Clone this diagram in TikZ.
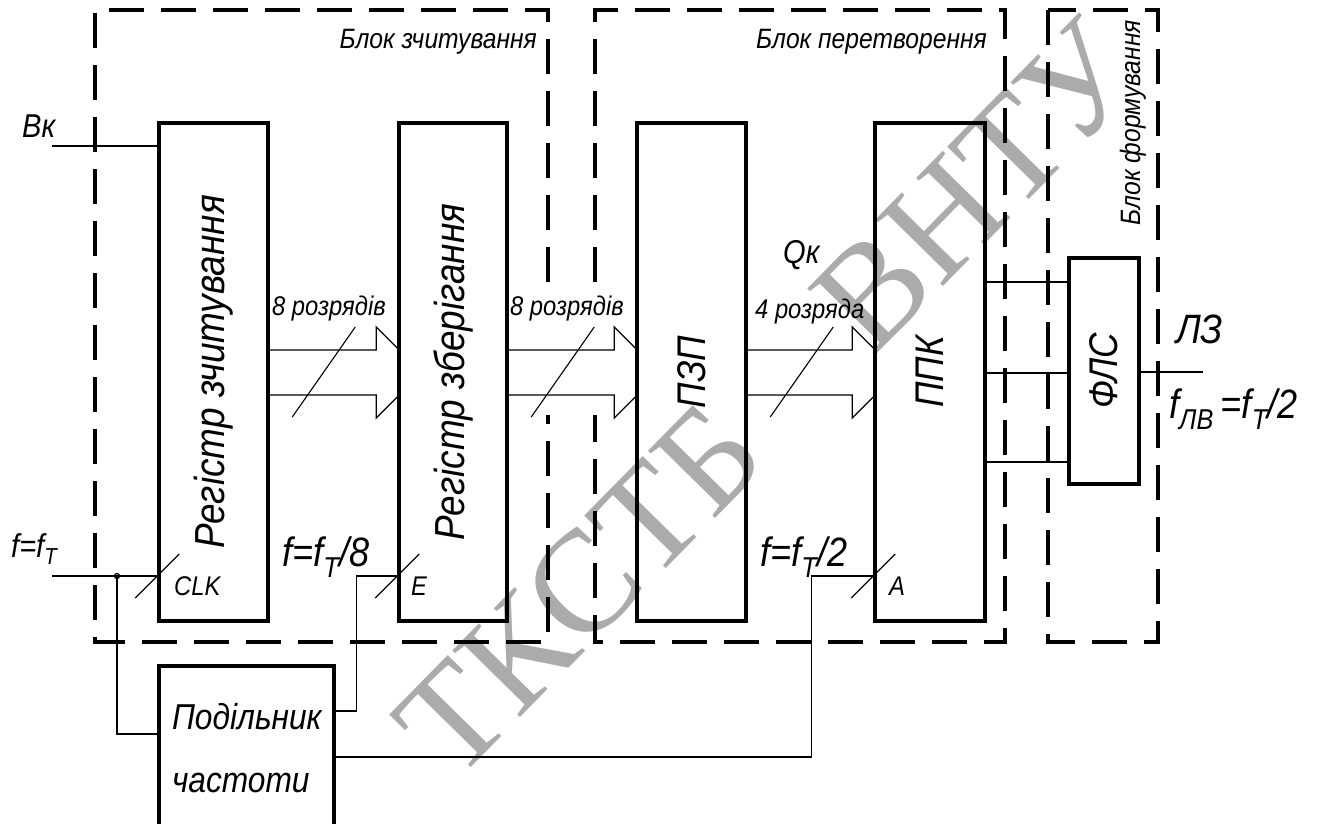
\documentclass[tikz,border=0pt]{standalone}
\usepackage{fontspec}
\usepackage{graphicx}
\newfontfamily\gost{Liberation Sans}[FakeStretch=0.88]
\newfontfamily\wmfont{Liberation Serif}
\usetikzlibrary{calc}
\tikzset{
  blk/.style={rectangle, draw, line width=3.5pt, inner sep=0pt,
    font=\gost\itshape\fontsize{42}{48}\selectfont},
  blksm/.style={font=\gost\itshape\fontsize{40}{44}\selectfont},
  frame/.style={line width=4pt, dash pattern=on 35pt off 17pt},
  wire/.style={line width=1.3pt},
  slash/.style={line width=1.1pt},
  lblS/.style={inner sep=0pt, font=\gost\itshape\fontsize{27}{32}\selectfont},
  lblM/.style={inner sep=0pt, font=\gost\itshape\fontsize{33}{38}\selectfont},
  lblL/.style={inner sep=0pt, font=\gost\itshape\fontsize{41}{48}\selectfont},
  lblF/.style={inner sep=0pt, font=\gost\itshape\fontsize{28}{32}\selectfont},
  wmark/.style={inner sep=0pt, text=black!33, font=\wmfont\fontsize{145}{145}\selectfont},
}

\begin{document}
\begin{tikzpicture}[x=1pt, y=-1pt]
  \path[use as bounding box, clip] (0,0) rectangle (1325,823);

  % watermark
  \node[wmark, rotate=45.5] (wm) at (768,398) {ТКСТБ\hspace{1em}ВНТУ};

  % frames
  \draw[frame] (548,282) -- (548,10) -- (95,10) -- (95,642) -- (548,642) -- (548,415);
  \draw[frame] (595,282) -- (595,10) -- (1005,10) -- (1005,642) -- (595,642) -- (595,415);
  \draw[frame] (1048,10) rectangle (1158,642);
  \node[lblF, anchor=base east] (tzch) at (537,48) {Блок зчитування};
  \node[lblF, anchor=base east] (tper) at (987,48) {Блок перетворення};
  \node[lblF, rotate=90, anchor=base east] (tform) at (1140,20) {Блок формування};

  % blocks
  \node[blk, minimum width=109pt, minimum height=498pt] (rz) at (213.5,372) {\rotatebox{90}{Регістр зчитування}};
  \node[blk, minimum width=108pt, minimum height=498pt] (rs) at (453,372) {\rotatebox{90}{Регістр зберігання}};
  \node[blk, blksm, minimum width=109pt, minimum height=498pt] (pzp) at (691.5,372) {\rotatebox{90}{ПЗП}};
  \node[blk, blksm, minimum width=110pt, minimum height=498pt] (ppk) at (930,372) {\rotatebox{90}{ППК}};
  \node[blk, blksm, minimum width=70pt, minimum height=226pt] (fls) at (1104,371) {\rotatebox{90}{ФЛС}};
  \node[blk, minimum width=175pt, minimum height=164pt, text width=149pt, align=left,
    font=\gost\itshape\fontsize{36}{63}\selectfont] (div) at (246.5,748) {Подільник\\частоти};

  % buses
  \foreach \a/\b in {rz/rs, rs/pzp, pzp/ppk} {
    \draw[wire] (\a.east |- 0,350) -- ($(\b.west |- 0,350)+(-21,0)$) -- ++(0,-23) -- ++(21,21);
    \draw[wire] (\a.east |- 0,395) -- ($(\b.west |- 0,395)+(-21,0)$) -- ++(0,23) -- ++(21,-21);
    \draw[slash] ($(\a.east |- 0,372)+(22.5,45)$) -- ++(63,-90);
  }
  \node[lblS, anchor=base west] (nb1) at (272,315) {8 розрядів};
  \node[lblS, anchor=base west] (nb2) at (510,315) {8 розрядів};
  \node[lblS, anchor=base west] (nb3) at (755,318) {4 розряда};
  \node[lblM, anchor=base west] (qk) at (783,263) {Qк};

  % inputs
  \coordinate (vkin) at (52,146);
  \draw[wire] (vkin) -- (vkin -| rz.west);
  \node[lblM, anchor=base west] (vk) at (22,137) {Вк};
  \coordinate (fin) at (52,576);
  \coordinate (jn) at (117,576);
  \draw[wire] (fin) -- (fin -| rz.west);
  \draw[wire] (jn) |- (div.west |- 0,734);
  \draw[wire] (jn) circle (2.5pt);
  \node[lblM, anchor=base west] (ft) at (11,557) {f=f\textsubscript{T}};

  % clocks
  \draw[wire] (div.east |- 0,711) -- ++(21,0) |- (rs.west |- 0,576);
  \draw[wire] (div.east |- 0,757) -- ++(476,0) |- (ppk.west |- 0,576);
  \foreach \n in {rz, rs, ppk}
    \draw[slash] ($(\n.west |- 0,576)+(-22,22)$) -- ++(44,-44);
  \node[lblS, anchor=base west] (clk) at (174,595) {CLK};
  \node[lblS, anchor=base west] (en) at (411,595) {E};
  \node[lblS, anchor=base west] (adr) at (889,595) {A};
  \node[lblL, anchor=base west] (ft8) at (282,566) {f=f\textsubscript{T}/8};
  \node[lblL, anchor=base west] (ft2) at (760,566) {f=f\textsubscript{T}/2};

  % outputs
  \foreach \y in {282, 373, 462}
    \draw[wire] (ppk.east |- 0,\y) -- (fls.west |- 0,\y);
  \coordinate (lzout) at (1203,372);
  \draw[wire] (fls.east |- lzout) -- (lzout);
  \node[lblL, anchor=base west] (lz) at (1176,343) {ЛЗ};
  \node[lblL, anchor=base west] (flv) at (1169,418) {f\textsubscript{ЛВ}\,=f\textsubscript{T}/2};
\end{tikzpicture}
\end{document}
